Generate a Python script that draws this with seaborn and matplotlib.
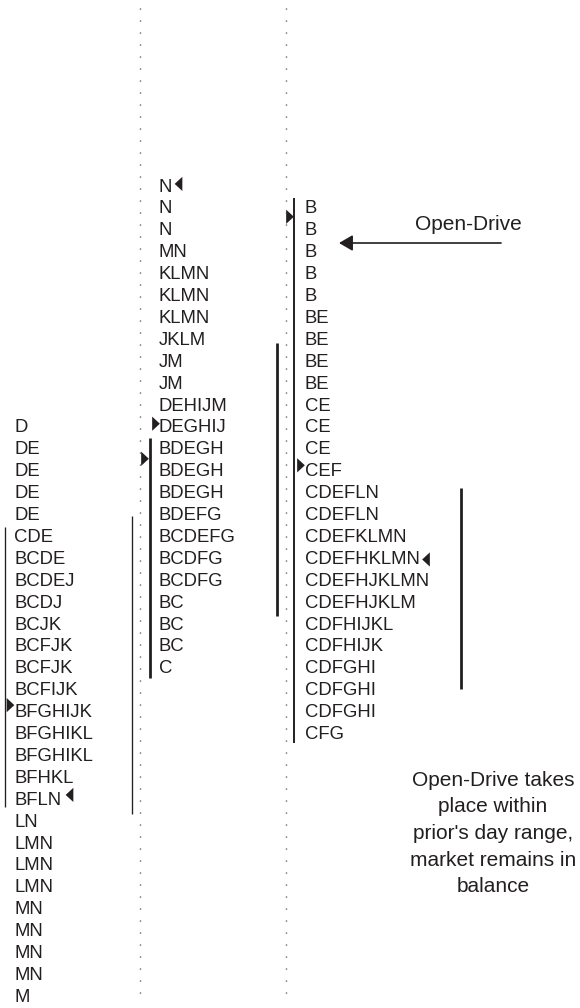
import matplotlib
matplotlib.use("Agg")
import matplotlib.pyplot as plt
import seaborn as sns
import pandas as pd

# --- DATA: TPO letters per price level (row 0 = top price level) ---
left_tpo = ["D", "DE", "DE", "DE", "DE", "CDE", "BCDE", "BCDEJ", "BCDJ", "BCJK",
            "BCFJK", "BCFJK", "BCFIJK", "BFGHIJK", "BFGHIKL", "BFGHIKL", "BFHKL",
            "BFLN", "LN", "LMN", "LMN", "LMN", "MN", "MN", "MN", "MN", "M"]
mid_tpo = ["N", "N", "N", "MN", "KLMN", "KLMN", "KLMN", "JKLM", "JM", "JM",
           "DEHIJM", "DEGHIJ", "BDEGH", "BDEGH", "BDEGH", "BDEFG", "BCDEFG",
           "BCDFG", "BCDFG", "BC", "BC", "BC", "C"]
right_tpo = ["B", "B", "B", "B", "B", "BE", "BE", "BE", "BE", "CE", "CE", "CE",
             "CEF", "CDEFLN", "CDEFLN", "CDEFKLMN", "CDEFHKLMN", "CDEFHJKLMN",
             "CDEFHJKLM", "CDFHIJKL", "CDFHIJK", "CDFGHI", "CDFGHI", "CDFGHI", "CFG"]
first_row = {"left": 11, "mid": 0, "right": 1}

# range bars drawn next to each profile (top / bottom price row)
bar_top = [15.6, 15.1, 11.55, 7.2, 0.6, 13.85]
bar_bottom = [28.4, 28.7, 22.5, 19.7, 25.5, 23.0]
bar_kind = ["thin", "thin", "thick", "thick", "mid", "thick"]

# small triangle markers (price row, pointing direction)
marker_row = [23.75, 27.85, -0.05, 10.9, 12.5, 1.45, 12.8, 17.1]
marker_dir = ["right", "left", "left", "right", "right", "right", "right", "left"]

annot_label = "Open-Drive"
note_text = "Open-Drive takes\nplace within\nprior's day range,\nmarket remains in\nbalance"

# --- LAYOUT ---
ROW0_PX, ROW_PX = 185, 21.9
text_x = {"left": 14, "mid": 159, "right": 305}
bar_x = [5, 132, 150, 277, 294, 461]
marker_x = [10.5, 69.5, 178.5, 156, 145, 290, 301, 426]
bar_lw = {"thin": 0.95, "mid": 1.4, "thick": 2.0}
INK = "#231f20"


def row_of(px):
    return (px - ROW0_PX) / ROW_PX


sns.set_theme(style="white")
plt.rcParams["font.family"] = ["Liberation Sans", "DejaVu Sans"]

fig = plt.figure(figsize=(5.8, 10.08), dpi=100)
ax = fig.add_axes([0, 0, 1, 1])
ax.set_xlim(0, 580)
ax.set_ylim(row_of(1008), row_of(0))
ax.axis("off")

# dotted day separators
ax.vlines([140, 286], row_of(8), row_of(996), colors="#444444", lw=1.0,
          linestyles=[(0, (0.8, 7.84))])

# letters
for name, rows in [("left", left_tpo), ("mid", mid_tpo), ("right", right_tpo)]:
    for i, s in enumerate(rows):
        ax.text(text_x[name], first_row[name] + i + 0.3, s, fontsize=13.3,
                ha="left", va="baseline", color=INK)

# range bars
bars = pd.DataFrame({"x": bar_x, "top": bar_top, "bottom": bar_bottom, "kind": bar_kind})
for _, b in bars.iterrows():
    ax.vlines(b["x"], b["top"], b["bottom"], colors=INK, lw=bar_lw[b["kind"]])

# triangle markers
marks = pd.DataFrame({"x": marker_x, "row": marker_row, "dir": marker_dir})
tri = {"right": [(-0.27, -0.5), (-0.27, 0.5), (0.27, 0.0)],
       "left": [(0.27, -0.5), (0.27, 0.5), (-0.27, 0.0)]}
for d, sub in marks.groupby("dir"):
    sns.scatterplot(data=sub, x="x", y="row", marker=tri[d], s=105, color=INK,
                    edgecolor="none", linewidth=0, ax=ax, legend=False)

# annotation
ax.text(468, row_of(229.5), annot_label, fontsize=15, ha="center", va="baseline", color=INK)
ax.annotate("", xy=(339, row_of(243)), xytext=(501, row_of(243)),
            arrowprops=dict(arrowstyle="-|>,head_length=0.55,head_width=0.32",
                            mutation_scale=15, lw=1.2, color=INK,
                            shrinkA=0, shrinkB=0))
ax.text(493, row_of(771), note_text, fontsize=15, ha="center", va="top",
        multialignment="center", linespacing=1.5, color=INK)

ax.set_xlabel("")
ax.set_ylabel("")
fig.savefig("out.png", dpi=100)
